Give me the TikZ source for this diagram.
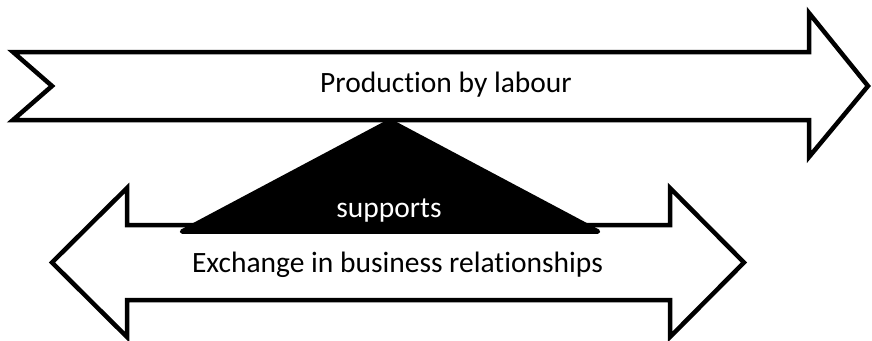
\documentclass[tikz,border=0pt]{standalone}
\usepackage{fontspec}
\setmainfont[Ligatures=NoCommon]{Carlito}
\begin{document}
\begin{tikzpicture}[x=1pt,y=-1pt,
  shapeline/.style={draw=black,line width=4.5pt,fill=white,line join=miter},
  label/.style={font=\fontsize{29.5}{35}\selectfont,inner sep=0pt,anchor=base}]
\useasboundingbox (0,0) rectangle (872,340);
% top arrow
\draw[shapeline] (13,52) -- (809,52) -- (809,13) -- (868,86) -- (809,157) -- (809,120) -- (13,120) -- (52,86) -- cycle;
% bottom double arrow
\draw[shapeline] (52,262.5) -- (127,188) -- (127,225) -- (670,225) -- (670,188) -- (744,262.5) -- (670,337) -- (670,300) -- (127,300) -- (127,337) -- cycle;
% triangle
\draw[fill=black,line width=4.5pt,line join=round] (390,121) -- (598,231.5) -- (182,231.5) -- cycle;
\node[label] (top) at (446,92) {Production by labour};
\node[label,text=white] (sup) at (389,217) {supports};
\node[label] (bot) at (397.5,272) {Exchange in business relationships};
\end{tikzpicture}
\end{document}
